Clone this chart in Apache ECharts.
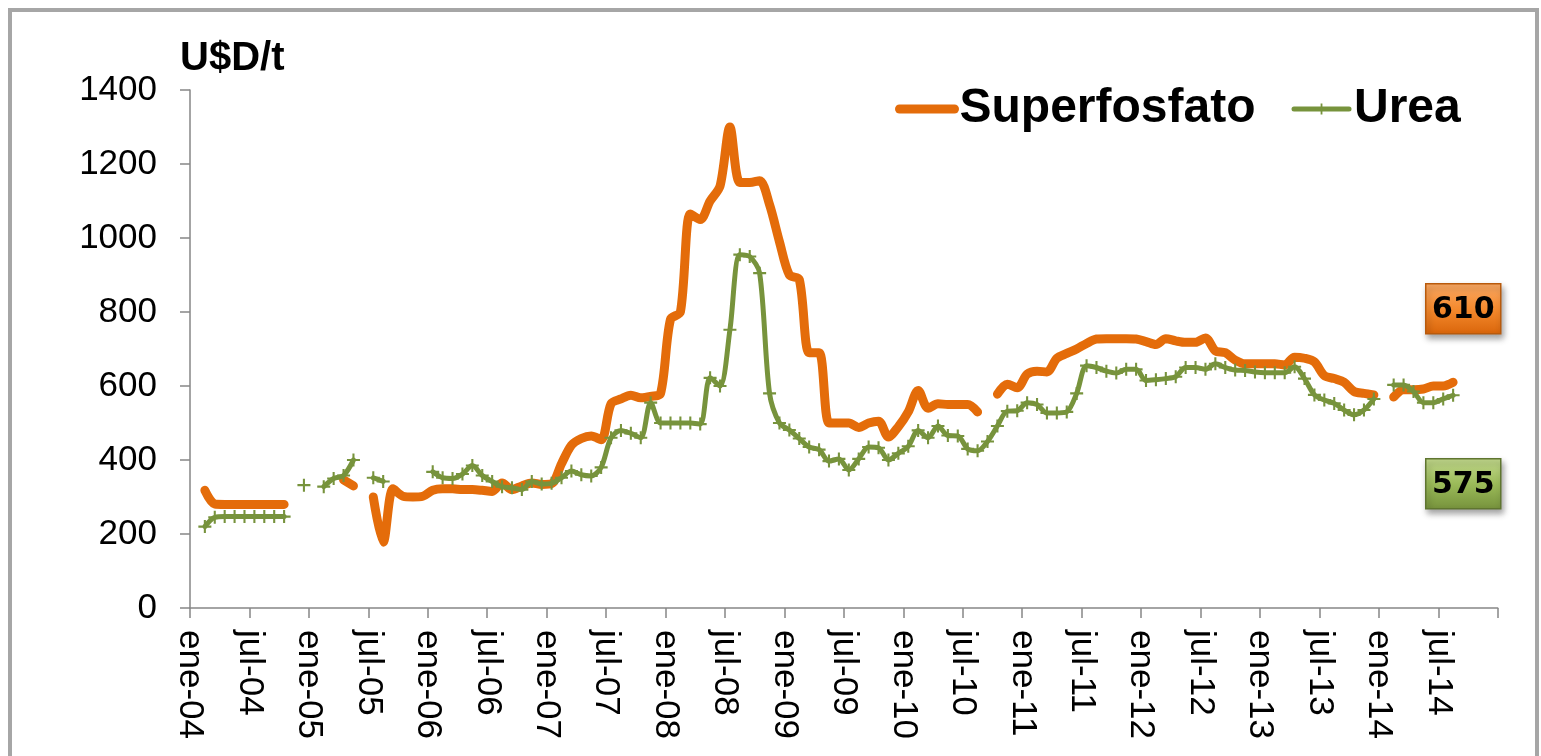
<!DOCTYPE html>
<html>
<head>
<meta charset="utf-8">
<script src="https://cdn.jsdelivr.net/npm/echarts@6/dist/echarts.min.js"></script>
<style>
  html, body { margin: 0; padding: 0; background: #ffffff; }
  #chart { position: absolute; left: 0; top: 0; width: 1541px; height: 756px; }
  #frame { position: absolute; left: 8px; top: 8px; width: 1523px; height: 800px;
           border: 4px solid #A6A6A6; pointer-events: none; }
</style>
</head>
<body>
<div id="chart"></div>
<div id="frame"></div>
<script>
// Month names (Spanish) and years covered: ene-04 .. ago-14
const monthNames = ['ene','feb','mar','abr','may','jun','jul','ago','sep','oct','nov','dic'];
const years = ['04','05','06','07','08','09','10','11','12','13','14'];

// Tick labels on the x axis (every 6 months)
const tickLabels = ['ene-04','jul-04','ene-05','jul-05','ene-06','jul-06','ene-07','jul-07',
  'ene-08','jul-08','ene-09','jul-09','ene-10','jul-10','ene-11','jul-11','ene-12','jul-12',
  'ene-13','jul-13','ene-14','jul-14'];

// Superfosfato (U$D/t), monthly from ene-04 to ago-14 (null = no data)
const superfosfato = [
  null, 318, 281, 280, 280, 280, 280, 280, 280, 280, null, null,          // 2004
  null, null, null, 346, 330, null, 300, 178, 322, 302, 300, 302,         // 2005
  318, 322, 322, 320, 320, 318, 315, 338, 320, 330, 338, 334,             // 2006
  336, 390, 440, 458, 465, 455, 552, 565, 575, 568, 572, 580,             // 2007
  780, 800, 1065, 1050, 1100, 1140, 1300, 1150, 1150, 1155, 1090, 990,   // 2008
  900, 888, 690, 690, 500, 500, 500, 488, 500, 505, 462, 490,             // 2009
  530, 588, 540, 552, 550, 550, 550, 530, null, 578, 605, 595,            // 2010
  632, 640, 638, 675, 688, 700, 715, 727, 728, 728, 728, 727,             // 2011
  720, 712, 728, 722, 718, 718, 730, 695, 690, 670, 660, 660,             // 2012
  660, 660, 657, 678, 675, 665, 628, 620, 610, 585, 580, 576,             // 2013
  null, 570, 590, 590, 592, 600, 600, 610                                 // 2014
];

// Urea (U$D/t), monthly from ene-04 to ago-14 (null = no data)
const urea = [
  null, 220, 245, 247, 247, 247, 247, 247, 247, 247, null, 332,           // 2004
  null, 328, 350, 358, 400, null, 352, 342, null, null, null, null,       // 2005
  368, 352, 350, 362, 385, 358, 342, 328, 325, 320, 342, 335,             // 2006
  337, 352, 370, 360, 357, 380, 460, 480, 472, 460, 555, 500,             // 2007
  500, 500, 500, 497, 622, 600, 752, 955, 950, 905, 580, 500,             // 2008
  481, 458, 435, 428, 397, 403, 373, 403, 435, 433, 400, 418,             // 2009
  437, 480, 460, 492, 466, 465, 430, 425, 450, 492, 532, 533,             // 2010
  555, 550, 527, 527, 530, 580, 655, 650, 640, 635, 645, 645,             // 2011
  615, 617, 620, 625, 650, 650, 645, 660, 650, 643, 642, 638,             // 2012
  636, 636, 636, 652, 620, 576, 562, 553, 535, 522, 535, 565,             // 2013
  null, 603, 603, 585, 555, 555, 565, 575                                 // 2014
];

// Category labels for each monthly point
const categories = [];
years.forEach(y => monthNames.forEach(m => categories.push(m + '-' + y)));
categories.length = superfosfato.length;

const ORANGE = '#E46C0A';
const GREEN = '#77933C';
const FONT = '"Liberation Sans", Arial, sans-serif';

// x position = month index + 0.5 (middle of the month slot, Excel date axis style)
const toPoints = arr => arr.map((v, i) => [i + 0.5, v]);

const plusPath = 'path://M0,4.2L4.2,4.2L4.2,0L5.8,0L5.8,4.2L10,4.2L10,5.8L5.8,5.8L5.8,10L4.2,10L4.2,5.8L0,5.8Z';

const lastSF = superfosfato[superfosfato.length - 1];
const lastUrea = urea[urea.length - 1];

const chart = echarts.init(document.getElementById('chart'), null, { renderer: 'canvas' });

function badge(y, value, c1, c2, c3, border) {
  return {
    type: 'group', left: 1425, top: y,
    children: [
      { type: 'rect', shape: { x: 0, y: 0, width: 75, height: 50 },
        style: { fill: new echarts.graphic.LinearGradient(0, 0, 0, 1, [
            { offset: 0, color: c1 }, { offset: 0.5, color: c2 }, { offset: 1, color: c3 }]),
          stroke: border, lineWidth: 1.5,
          shadowBlur: 6, shadowOffsetX: 2, shadowOffsetY: 4, shadowColor: 'rgba(0,0,0,0.35)' } },
      { type: 'text', x: 37.5, y: 26,
        style: { text: String(value), fill: '#000', font: 'bold 30px "DejaVu Sans", sans-serif',
                 align: 'center', verticalAlign: 'middle' } }
    ]
  };
}

chart.setOption({
  animation: false,
  backgroundColor: '#ffffff',
  title: {
    text: 'U$D/t', left: 175, top: 34,
    textStyle: { fontFamily: FONT, fontSize: 40, fontWeight: 'bold', color: '#000' }
  },
  legend: {
    left: 890, top: 80, itemWidth: 55, itemHeight: 14, itemGap: 36,
    lineStyle: { width: 'inherit', cap: 'round' },
    textStyle: { fontFamily: FONT, fontSize: 48, fontWeight: 'bold', color: '#000' },
    data: [
      { name: 'Superfosfato', itemStyle: { opacity: 0 } },
      { name: 'Urea' }
    ]
  },
  grid: { left: 190, right: 43.3, top: 90, bottom: 148, containLabel: false },
  xAxis: {
    type: 'value', min: 0, max: 132, interval: 6,
    axisLine: { show: true, lineStyle: { color: '#868686', width: 1.5 } },
    axisTick: { show: true, inside: false, length: 10, lineStyle: { color: '#868686', width: 1.5 } },
    splitLine: { show: false },
    axisLabel: {
      rotate: -90, margin: 22, fontFamily: FONT, fontSize: 35, color: '#000',
      showMaxLabel: true,
      formatter: v => tickLabels[Math.round(v / 6)] || ''
    }
  },
  yAxis: {
    type: 'value', min: 0, max: 1400, interval: 200,
    axisLine: { show: true, lineStyle: { color: '#868686', width: 1.5 } },
    axisTick: { show: true, inside: false, length: 10, lineStyle: { color: '#868686', width: 1.5 } },
    splitLine: { show: false },
    axisLabel: { margin: 33, fontFamily: FONT, fontSize: 35, color: '#000',
                 formatter: v => String(v) }
  },
  series: [
    {
      name: 'Superfosfato', type: 'line', data: toPoints(superfosfato),
      smooth: 0.3, connectNulls: false, showSymbol: false, symbol: 'none',
      lineStyle: { color: ORANGE, width: 9, cap: 'round', join: 'round' },
      itemStyle: { color: ORANGE },
      z: 2
    },
    {
      name: 'Urea', type: 'line', data: toPoints(urea),
      smooth: 0.3, connectNulls: false, showSymbol: true, showAllSymbol: true,
      symbol: plusPath, symbolSize: 13,
      lineStyle: { color: GREEN, width: 5, cap: 'round', join: 'round' },
      itemStyle: { color: GREEN },
      z: 3
    }
  ],
  graphic: [
    badge(283, lastSF, '#FAAA66', '#F58A2E', '#D9650A', '#B85A0C'),
    badge(458, lastUrea, '#C4DA8E', '#9BBB59', '#76923C', '#5F7530')
  ]
});
</script>
</body>
</html>
